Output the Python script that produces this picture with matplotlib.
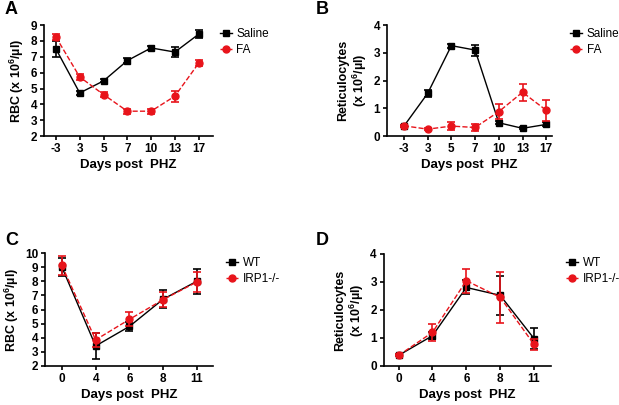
import matplotlib.pyplot as plt
from matplotlib.lines import Line2D
import numpy as np

plt.rcParams["font.family"] = ["Liberation Sans", "DejaVu Sans"]
plt.rcParams["mathtext.fontset"] = "custom"
plt.rcParams["mathtext.rm"] = "Liberation Sans:bold"
plt.rcParams["mathtext.default"] = "rm"

# panel A / B: days after PHZ, saline vs FA
days_ab = ["-3", "3", "5", "7", "10", "13", "17"]
rbc_saline = [7.5, 4.72, 5.48, 6.76, 7.56, 7.3, 8.43]
rbc_saline_err = [0.5, 0.15, 0.1, 0.15, 0.15, 0.3, 0.25]
rbc_fa = [8.25, 5.73, 4.62, 3.57, 3.57, 4.52, 6.6]
rbc_fa_err = [0.2, 0.2, 0.15, 0.15, 0.15, 0.35, 0.2]

ret_saline = [0.36, 1.54, 3.26, 3.1, 0.48, 0.28, 0.42]
ret_saline_err = [0.03, 0.12, 0.07, 0.2, 0.05, 0.03, 0.07]
ret_fa = [0.37, 0.25, 0.36, 0.31, 0.88, 1.58, 0.93]
ret_fa_err = [0.03, 0.03, 0.15, 0.13, 0.26, 0.3, 0.37]

# panel C / D: WT vs IRP1-/-
days_cd = ["0", "4", "6", "8", "11"]
rbc_wt = [9.0, 3.42, 4.8, 6.73, 8.0]
rbc_wt_err = [0.65, 0.9, 0.35, 0.65, 0.9]
rbc_irp = [9.12, 3.85, 5.3, 6.7, 7.95]
rbc_irp_err = [0.7, 0.5, 0.5, 0.55, 0.7]

ret_wt = [0.38, 1.08, 2.8, 2.52, 0.98]
ret_wt_err = [0.04, 0.12, 0.25, 0.7, 0.38]
ret_irp = [0.38, 1.2, 3.04, 2.45, 0.77]
ret_irp_err = [0.04, 0.3, 0.42, 0.9, 0.2]

RED = "#e8141b"
fig = plt.figure(figsize=(6.19, 4.05), dpi=100)


def panel(rect, labels, black, black_err, red, red_err, names, ylim, yticks,
          ylabel, xlim, letter, letter_xy, legend_xy):
    ax = fig.add_axes(rect)
    x = np.arange(len(labels))
    ax.errorbar(x, black, yerr=black_err, color="black", marker="s", ms=5,
                lw=1.0, capsize=3, elinewidth=1.2, capthick=1.2, zorder=3)
    ax.errorbar(x, red, yerr=red_err, color=RED, marker="o", ms=5,
                lw=1.0, ls="--", capsize=3, elinewidth=1.2, capthick=1.2,
                zorder=4)
    ax.set_xlim(*xlim)
    ax.set_ylim(*ylim)
    ax.set_yticks(yticks)
    ax.set_xticks(x)
    ax.set_xticklabels(labels, fontweight="bold", fontsize=8.5)
    for t in ax.get_yticklabels():
        t.set_fontweight("bold")
        t.set_fontsize(8.5)
    ax.spines["top"].set_visible(False)
    ax.spines["right"].set_visible(False)
    ax.spines["left"].set_linewidth(1.2)
    ax.spines["bottom"].set_linewidth(1.2)
    ax.tick_params(direction="out", length=3, width=1.2, pad=2)
    ax.set_xlabel("Days post  PHZ", fontweight="bold", fontsize=9.5, labelpad=3)
    ax.set_ylabel(ylabel, fontweight="bold", fontsize=9, labelpad=3,
                  linespacing=1.1)
    handles = [Line2D([], [], color="black", marker="s", ms=5, lw=1.0),
               Line2D([], [], color=RED, marker="o", ms=5, lw=1.0, ls="--")]
    ax.legend(handles, names, loc="upper left", bbox_to_anchor=legend_xy,
              bbox_transform=fig.transFigure, frameon=False, fontsize=8.5,
              handlelength=1.0, handletextpad=0.4, labelspacing=0.35,
              borderpad=0, borderaxespad=0)
    fig.text(letter_xy[0], letter_xy[1], letter, fontweight="bold",
             fontsize=13, va="bottom")
    return ax


panel([0.0711, 0.664, 0.273, 0.274], days_ab, rbc_saline, rbc_saline_err,
      rbc_fa, rbc_fa_err, ["Saline", "FA"], (2, 9), range(2, 10),
      "RBC (x 10$^{6}$/µl)", (-0.5, 6.6), "A", (0.008, 0.955),
      (0.355, 0.93))
panel([0.625, 0.664, 0.267, 0.274], days_ab, ret_saline, ret_saline_err,
      ret_fa, ret_fa_err, ["Saline", "FA"], (0, 4), range(0, 5),
      "Reticulocytes\n(x 10$^{6}$/µl)", (-0.72, 6.25), "B", (0.51, 0.955),
      (0.921, 0.93))
panel([0.0727, 0.0963, 0.271, 0.279], days_cd, rbc_wt, rbc_wt_err,
      rbc_irp, rbc_irp_err, ["WT", "IRP1-/-"], (2, 10), range(2, 11),
      "RBC (x 10$^{6}$/µl)", (-0.5, 4.47), "C", (0.008, 0.385),
      (0.365, 0.365))
panel([0.620, 0.0963, 0.270, 0.277], days_cd, ret_wt, ret_wt_err,
      ret_irp, ret_irp_err, ["WT", "IRP1-/-"], (0, 4), range(0, 5),
      "Reticulocytes\n(x 10$^{6}$/µl)", (-0.44, 4.5), "D", (0.51, 0.385),
      (0.915, 0.365))

fig.savefig("out.png", dpi=100)
